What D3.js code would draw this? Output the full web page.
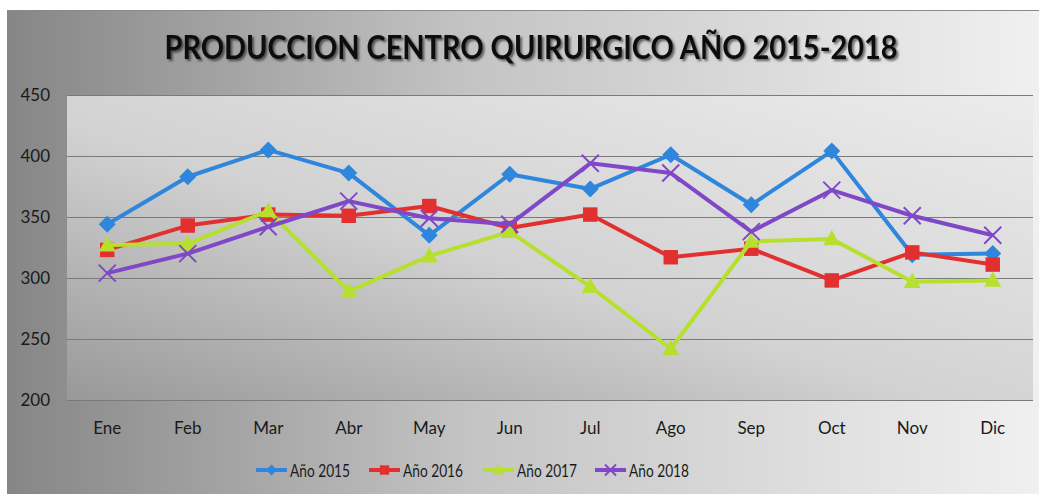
<!DOCTYPE html>
<html>
<head>
<meta charset="utf-8">
<script src="https://cdn.jsdelivr.net/npm/d3@7"></script>
<style>
  body { margin: 0; background: #fff; }
  text { font-family: Lato, "Open Sans", sans-serif; }
</style>
</head>
<body>
<div id="chart"></div>
<script>
// data
let months = ["Ene", "Feb", "Mar", "Abr", "May", "Jun", "Jul", "Ago", "Sep", "Oct", "Nov", "Dic"];
let yTicks = [200, 250, 300, 350, 400, 450];
let y2015 = [344, 383, 405, 386, 335, 385, 373, 401, 360, 404, 319, 320];
let y2016 = [323, 343, 352, 351, 359, 341, 352, 317, 324, 298, 321, 311];
let y2017 = [327, 328, 355, 289, 318, 338, 293, 242, 330, 332, 297, 298];
let y2018 = [304, 320, 342, 363, 349, 344, 394, 386, 338, 372, 351, 335];
let seriesNames = ["Año 2015", "Año 2016", "Año 2017", "Año 2018"];

let series = [
    {name: seriesNames[0], values: y2015, color: "#2f86dd", marker: "diamond"},
    {name: seriesNames[1], values: y2016, color: "#e23030", marker: "square"},
    {name: seriesNames[2], values: y2017, color: "#b6df2e", marker: "triangle"},
    {name: seriesNames[3], values: y2018, color: "#7f48c6", marker: "cross"}
];

let W = 1039, H = 494;
let margin = {top: 95, right: 6, bottom: 94, left: 67};
let width = W - margin.left - margin.right;
let height = H - margin.top - margin.bottom;

let svg = d3.select("#chart").append("svg")
    .attr("width", W)
    .attr("height", H);

let defs = svg.append("defs");
let outerGrad = defs.append("linearGradient").attr("id", "outerGrad")
    .attr("x1", "0").attr("y1", "0").attr("x2", "1").attr("y2", "0");
outerGrad.append("stop").attr("offset", "0").attr("stop-color", "#868686");
outerGrad.append("stop").attr("offset", "0.45").attr("stop-color", "#c4c4c4");
outerGrad.append("stop").attr("offset", "1").attr("stop-color", "#f0f0f0");

let plotGrad = defs.append("linearGradient").attr("id", "plotGrad")
    .attr("x1", "0").attr("y1", "1").attr("x2", "1").attr("y2", "0");
plotGrad.append("stop").attr("offset", "0").attr("stop-color", "#989898");
plotGrad.append("stop").attr("offset", "0.45").attr("stop-color", "#d2d2d2");
plotGrad.append("stop").attr("offset", "1").attr("stop-color", "#ececec");

let shadow = defs.append("filter").attr("id", "shadow")
    .attr("x", "-5%").attr("y", "-20%").attr("width", "110%").attr("height", "160%");
shadow.append("feDropShadow").attr("dx", 2).attr("dy", 2).attr("stdDeviation", 1.2)
    .attr("flood-color", "#000").attr("flood-opacity", 0.55);

// outer chart area
svg.append("rect")
    .attr("x", 7).attr("y", 10)
    .attr("width", W - 7).attr("height", H - 10)
    .attr("fill", "url(#outerGrad)");
svg.append("line")
    .attr("x1", 7).attr("x2", W).attr("y1", 10.5).attr("y2", 10.5)
    .attr("stroke", "#8a8a8a").attr("stroke-width", 1);

// title
svg.append("text")
    .attr("x", 531).attr("y", 59)
    .attr("text-anchor", "middle")
    .attr("font-size", 32)
    .attr("font-weight", "bold")
    .attr("fill", "#111")
    .attr("textLength", 733)
    .attr("lengthAdjust", "spacingAndGlyphs")
    .attr("filter", "url(#shadow)")
    .text("PRODUCCION CENTRO QUIRURGICO AÑO 2015-2018");

let g = svg.append("g")
    .attr("transform", `translate(${margin.left},${margin.top})`);

g.append("rect")
    .attr("width", width).attr("height", height)
    .attr("fill", "url(#plotGrad)");

let xScale = d3.scaleBand().domain(months).range([0, width]);
let yScale = d3.scaleLinear().domain([200, 450]).range([height, 0]);

// gridlines
g.append("g").attr("class", "grid")
    .call(d3.axisLeft(yScale).tickValues(yTicks).tickSize(-width).tickFormat(""))
    .call(a => a.select(".domain").remove())
    .selectAll("line")
    .attr("stroke", "#7a7a7a").attr("stroke-width", 1.2);

// y axis labels
g.append("g")
    .call(d3.axisLeft(yScale).tickValues(yTicks).tickSize(0).tickPadding(17))
    .call(a => a.select(".domain").remove())
    .selectAll("text")
    .attr("font-size", 17)
    .attr("fill", "#1a1a1a")
    .style("font-family", "Lato, 'Open Sans', sans-serif");

// x axis labels
g.append("g")
    .attr("transform", `translate(0,${height})`)
    .call(d3.axisBottom(xScale).tickSize(0).tickPadding(22))
    .call(a => a.select(".domain").remove())
    .selectAll("text")
    .attr("font-size", 17)
    .attr("fill", "#1a1a1a")
    .style("font-family", "Lato, 'Open Sans', sans-serif");

let cx = i => xScale(months[i]) + xScale.bandwidth() / 2;

let line = d3.line()
    .x((d, i) => cx(i))
    .y(d => yScale(d));

function drawMarker(sel, type, color, s) {
    if (type === "diamond") {
        sel.append("path").attr("d", `M0,${-s}L${s},0L0,${s}L${-s},0Z`).attr("fill", color);
    } else if (type === "square") {
        sel.append("rect").attr("x", -s * 0.85).attr("y", -s * 0.85)
            .attr("width", s * 1.7).attr("height", s * 1.7).attr("fill", color);
    } else if (type === "triangle") {
        sel.append("path").attr("d", `M0,${-s * 1.05}L${s},${s * 0.75}L${-s},${s * 0.75}Z`).attr("fill", color);
    } else {
        sel.append("path").attr("d", `M${-s},${-s}L${s},${s}M${-s},${s}L${s},${-s}`)
            .attr("stroke", color).attr("stroke-width", 2).attr("fill", "none");
    }
}

series.forEach(s => {
    g.append("path")
        .datum(s.values)
        .attr("fill", "none")
        .attr("stroke", s.color)
        .attr("stroke-width", 4)
        .attr("stroke-linejoin", "round")
        .attr("d", line);

    g.selectAll(null)
        .data(s.values)
        .enter()
        .append("g")
        .attr("transform", (d, i) => `translate(${cx(i)},${yScale(d)})`)
        .each(function () { drawMarker(d3.select(this), s.marker, s.color, 8.5); });
});

// legend
let legendX = [256, 369, 483, 595];
let legend = svg.append("g").attr("transform", "translate(0,470)");
series.forEach((s, i) => {
    let lg = legend.append("g").attr("transform", `translate(${legendX[i]},0)`);
    lg.append("line").attr("x1", 0).attr("x2", 31).attr("y1", 0).attr("y2", 0)
        .attr("stroke", s.color).attr("stroke-width", 4);
    let m = lg.append("g").attr("transform", "translate(15.5,0)");
    drawMarker(m, s.marker, s.color, 5.5);
    lg.append("text")
        .attr("x", 34).attr("y", 6.5)
        .attr("font-size", 18)
        .attr("fill", "#1a1a1a")
        .attr("textLength", 60)
        .attr("lengthAdjust", "spacingAndGlyphs")
        .text(s.name);
});
</script>
</body>
</html>
